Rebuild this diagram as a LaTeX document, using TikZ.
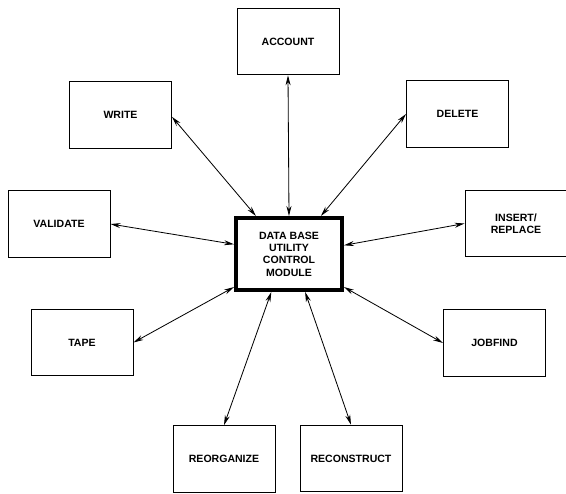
\documentclass[tikz,border=0pt]{standalone}
\usepackage{fontspec}
\setmainfont{Liberation Sans}
\usetikzlibrary{arrows.meta}
\tikzset{
  unit/.style={draw, line width=0.8pt, minimum width=3.06cm, minimum height=2cm, align=center, font=\bfseries\fontsize{9}{10.5}\selectfont},
  control/.style={unit, line width=3.4pt, minimum width=3.18cm, minimum height=2.16cm},
  link/.style={{Stealth[length=3mm,width=1.5mm]}-{Stealth[length=3mm,width=1.5mm]}, line width=0.7pt}
}
\begin{document}
\begin{tikzpicture}[x=0.03cm, y=-0.03cm]
    \useasboundingbox (0, 0) rectangle (566, 493);
    \node[control] (ctrl) at (289, 254) {DATA BASE\\UTILITY\\CONTROL\\MODULE};

    \node[unit] (account) at (288, 41.5) {ACCOUNT};
    \node[unit] (write) at (120.5, 115) {WRITE};
    \node[unit] (delete) at (457.5, 114) {DELETE};
    \node[unit] (validate) at (59, 224) {VALIDATE};
    \node[unit] (insert) at (516, 223.5) {INSERT/\\REPLACE};
    \node[unit] (tape) at (82, 342.5) {TAPE};
    \node[unit] (jobfind) at (494.5, 343) {JOBFIND};
    \node[unit] (reorganize) at (224, 459) {REORGANIZE};
    \node[unit] (reconstruct) at (351, 458.5) {RECONSTRUCT};

    \draw[link] (account.south) -- (ctrl.north);
    \draw[link] (write.-2) -- (ctrl.131);
    \draw[link] (delete.west) -- (ctrl.50);
    \draw[link] (validate.east) -- (ctrl.170);
    \draw[link] (insert.west) -- (ctrl.9);
    \draw[link] (tape.east) -- (ctrl.-149);
    \draw[link] (jobfind.west) -- (ctrl.-31);
    \draw[link] (reorganize.north) -- (ctrl.-115);
    \draw[link] (reconstruct.north) -- (ctrl.-67);
\end{tikzpicture}
\end{document}
